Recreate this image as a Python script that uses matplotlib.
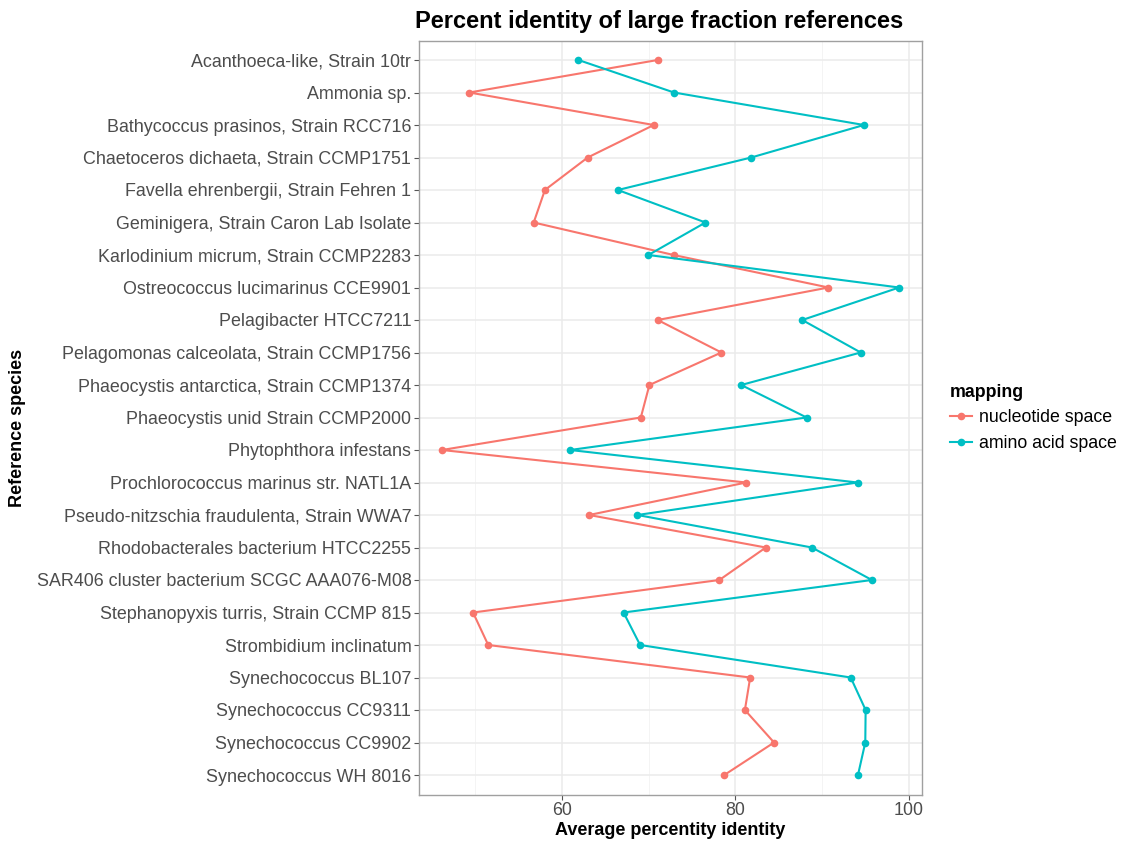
import matplotlib
matplotlib.use("Agg")
import matplotlib.pyplot as plt
from matplotlib.ticker import MultipleLocator
from matplotlib.lines import Line2D

plt.rcParams['font.family'] = ['Liberation Sans', 'DejaVu Sans']

species = [
    "Acanthoeca-like, Strain 10tr",
    "Ammonia sp.",
    "Bathycoccus prasinos, Strain RCC716",
    "Chaetoceros dichaeta, Strain CCMP1751",
    "Favella ehrenbergii, Strain Fehren 1",
    "Geminigera, Strain Caron Lab Isolate",
    "Karlodinium micrum, Strain CCMP2283",
    "Ostreococcus lucimarinus CCE9901",
    "Pelagibacter HTCC7211",
    "Pelagomonas calceolata, Strain CCMP1756",
    "Phaeocystis antarctica, Strain CCMP1374",
    "Phaeocystis unid Strain CCMP2000",
    "Phytophthora infestans",
    "Prochlorococcus marinus str. NATL1A",
    "Pseudo-nitzschia fraudulenta, Strain WWA7",
    "Rhodobacterales bacterium HTCC2255",
    "SAR406 cluster bacterium SCGC AAA076-M08",
    "Stephanopyxis turris, Strain CCMP 815",
    "Strombidium inclinatum",
    "Synechococcus BL107",
    "Synechococcus CC9311",
    "Synechococcus CC9902",
    "Synechococcus WH 8016",
]

nucleotide = [71.05, 49.34, 70.59, 62.98, 58.05, 56.76, 72.88, 90.72, 71.05,
              78.38, 70.09, 69.10, 46.18, 81.25, 63.14, 83.50, 78.15, 49.77,
              51.52, 81.70, 81.09, 84.45, 78.72]
amino_acid = [61.91, 72.92, 94.81, 81.82, 66.46, 76.55, 69.97, 98.86, 87.70,
              94.43, 80.67, 88.20, 60.96, 94.08, 68.71, 88.81, 95.72, 67.11,
              69.02, 93.28, 95.00, 94.96, 94.12]

series_names = ["nucleotide space", "amino acid space"]
series_colors = ["#F8766D", "#00BFC4"]

W, H = 1125, 842
fig = plt.figure(figsize=(W / 100, H / 100), dpi=100)
ax = fig.add_axes([419 / W, 1 - 794.5 / H, (922 - 419) / W, (794.5 - 40.5) / H])

ypos = list(range(len(species)))
for vals, name, col in zip([nucleotide, amino_acid], series_names, series_colors):
    ax.plot(vals, ypos, color=col, lw=1.5, marker='o', ms=5.5,
            markeredgewidth=0, label=name, zorder=3)

ax.set_yticks(ypos)
ax.set_yticklabels(species)
ax.set_ylim(len(species) - 1 + 0.6, -0.6)

allv = nucleotide + amino_acid
lo, hi = min(allv), max(allv)
pad = (hi - lo) * 0.05
ax.set_xlim(lo - pad, hi + pad)
ax.xaxis.set_major_locator(MultipleLocator(20))
ax.xaxis.set_minor_locator(MultipleLocator(10))

ax.grid(True, which='major', color='#EBEBEB', lw=1.1, zorder=0)
ax.grid(True, which='minor', axis='x', color='#F2F2F2', lw=0.6, zorder=0)
ax.set_axisbelow(True)

for s in ax.spines.values():
    s.set_color('#A0A0A0')
    s.set_linewidth(1.0)

ax.tick_params(axis='both', which='major', length=3.5, width=0.8,
               color='#555555', labelcolor='#4D4D4D', labelsize=12.9, pad=2)
ax.tick_params(axis='x', which='minor', length=0)

ax.set_xlabel("Average percentity identity", fontsize=13, fontweight='bold',
              labelpad=2)
fig.text(18 / W, 1 - 427.5 / H, "Reference species", rotation=90,
         fontsize=13, fontweight='bold', ha='center', va='center')

fig.text(415 / W, 1 - 28 / H, "Percent identity of large fraction references",
         fontsize=17, fontweight='bold', ha='left', va='baseline')

handles = [Line2D([0], [0], color=c, lw=1.5, marker='o', ms=5.5,
                  markeredgewidth=0) for c in series_colors]
leg = fig.legend(handles, series_names, title="mapping",
                 loc='upper left', bbox_to_anchor=(946 / W, 1 - 380 / H),
                 frameon=False, fontsize=12.8, title_fontsize=12.8,
                 handlelength=1.25, handletextpad=0.4, labelspacing=0.5,
                 borderaxespad=0, borderpad=0.2)
leg.get_title().set_fontweight('bold')
leg._legend_box.align = "left"

fig.savefig("out.png", dpi=100)
